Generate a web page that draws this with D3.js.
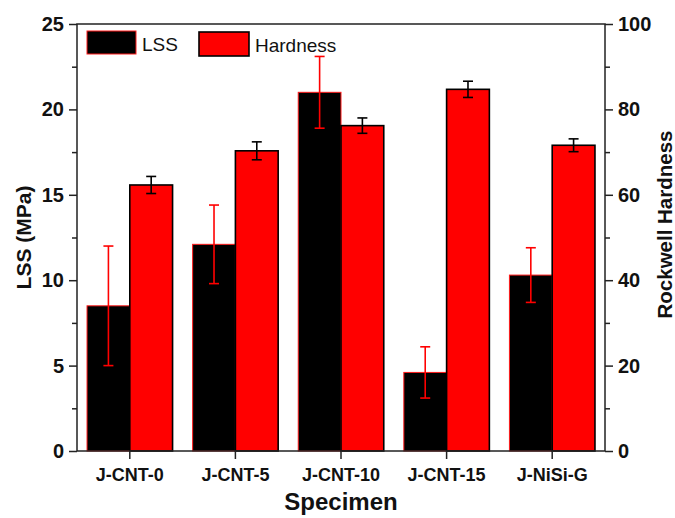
<!DOCTYPE html>
<html><head><meta charset="utf-8">
<script src="https://cdn.jsdelivr.net/npm/d3@7"></script>
<style>
html,body{margin:0;padding:0;background:#fff;}
svg{display:block;}
text{font-family:"Liberation Sans",Arial,sans-serif;}
</style></head>
<body>
<svg id="chart" width="675" height="518"></svg>
<script>
const categories = ["J-CNT-0","J-CNT-5","J-CNT-10","J-CNT-15","J-NiSi-G"];
const lssValues = [8.5, 12.1, 21.0, 4.6, 10.3];
const lssErrors = [3.5, 2.3, 2.1, 1.5, 1.6];
const hardnessValues = [62.3, 70.3, 76.2, 84.7, 71.6];
const hardnessErrors = [2.0, 2.1, 1.8, 1.9, 1.5];
const leftTicks = [0,5,10,15,20,25];
const rightTicks = [0,20,40,60,80,100];

const svg = d3.select("#chart");
const L = 77, R = 605, T = 24, B = 451;
const axisColor = "#222";

const x = d3.scaleBand().domain(categories).range([L,R]).paddingInner(0.19).paddingOuter(0.095);
const sub = d3.scaleBand().domain(["LSS","Hardness"]).range([0,x.bandwidth()]);
const yL = d3.scaleLinear().domain([0,25]).range([B,T]);
const yR = d3.scaleLinear().domain([0,100]).range([B,T]);

// bars
const g = svg.append("g");
categories.forEach((c,i)=>{
  const x0 = x(c);
  g.append("rect").attr("x",x0+sub("LSS")).attr("y",yL(lssValues[i]))
    .attr("width",sub.bandwidth()).attr("height",B-yL(lssValues[i]))
    .attr("fill","#000").attr("stroke","#ff1a1a").attr("stroke-width",1);
  g.append("rect").attr("x",x0+sub("Hardness")).attr("y",yR(hardnessValues[i]))
    .attr("width",sub.bandwidth()).attr("height",B-yR(hardnessValues[i]))
    .attr("fill","#ff0000").attr("stroke","#000").attr("stroke-width",1.6);
});
// error bars
function errBar(cx, yTop, yBot, color){
  const cap = 5;
  g.append("line").attr("x1",cx).attr("x2",cx).attr("y1",yTop).attr("y2",yBot).attr("stroke",color).attr("stroke-width",1.6);
  g.append("line").attr("x1",cx-cap).attr("x2",cx+cap).attr("y1",yTop).attr("y2",yTop).attr("stroke",color).attr("stroke-width",1.6);
  g.append("line").attr("x1",cx-cap).attr("x2",cx+cap).attr("y1",yBot).attr("y2",yBot).attr("stroke",color).attr("stroke-width",1.6);
}
categories.forEach((c,i)=>{
  const cxL = x(c)+sub("LSS")+sub.bandwidth()/2;
  errBar(cxL, yL(lssValues[i]+lssErrors[i]), yL(lssValues[i]-lssErrors[i]), "#ff0000");
  const cxH = x(c)+sub("Hardness")+sub.bandwidth()/2;
  errBar(cxH, yR(hardnessValues[i]+hardnessErrors[i]), yR(hardnessValues[i]-hardnessErrors[i]), "#000");
});

// frame
svg.append("rect").attr("x",L).attr("y",T).attr("width",R-L).attr("height",B-T)
  .attr("fill","none").attr("stroke",axisColor).attr("stroke-width",1.5);

function styleAxis(sel){
  sel.select(".domain").remove();
  sel.selectAll(".tick line").attr("stroke",axisColor).attr("stroke-width",1.5);
  sel.selectAll(".tick text").attr("fill","#111").style("font-weight","bold");
}
// left axis
const minorL = d3.range(2.5,25,5);
svg.append("g").attr("transform",`translate(${L},0)`)
  .call(d3.axisLeft(yL).tickValues(minorL).tickSize(5).tickFormat(""))
  .call(styleAxis);
svg.append("g").attr("transform",`translate(${L},0)`)
  .call(d3.axisLeft(yL).tickValues(leftTicks).tickSize(8).tickPadding(5).tickFormat(d3.format("d")))
  .call(styleAxis).selectAll(".tick text").style("font-size","20px");
// right axis
const minorR = d3.range(10,100,20);
svg.append("g").attr("transform",`translate(${R},0)`)
  .call(d3.axisRight(yR).tickValues(minorR).tickSize(5).tickFormat(""))
  .call(styleAxis);
svg.append("g").attr("transform",`translate(${R},0)`)
  .call(d3.axisRight(yR).tickValues(rightTicks).tickSize(8).tickPadding(5).tickFormat(d3.format("d")))
  .call(styleAxis).selectAll(".tick text").style("font-size","20px");
// bottom axis
svg.append("g").attr("transform",`translate(0,${B})`)
  .call(d3.axisBottom(x).tickSize(8).tickPadding(9))
  .call(styleAxis).selectAll(".tick text").style("font-size","18px");

// axis titles
svg.append("text").attr("transform",`translate(31,${(T+B)/2}) rotate(-90)`)
  .attr("text-anchor","middle").style("font-size","21px").style("font-weight","bold").attr("fill","#111")
  .text("LSS (MPa)");
svg.append("text").attr("transform",`translate(672,${(T+B)/2-13}) rotate(-90)`)
  .attr("text-anchor","middle").style("font-size","20.5px").style("font-weight","bold").attr("fill","#111")
  .text("Rockwell Hardness");
svg.append("text").attr("x",(L+R)/2).attr("y",510)
  .attr("text-anchor","middle").style("font-size","24px").style("font-weight","bold").attr("fill","#111")
  .text("Specimen");

// legend
const legend = svg.append("g");
legend.append("rect").attr("x",87).attr("y",31).attr("width",49).attr("height",23)
  .attr("fill","#000").attr("stroke","#ff1a1a").attr("stroke-width",1);
legend.append("text").attr("x",142).attr("y",51).style("font-size","19px").attr("fill","#111").text("LSS");
legend.append("rect").attr("x",199).attr("y",32).attr("width",50).attr("height",24)
  .attr("fill","#ff0000").attr("stroke","#000").attr("stroke-width",1.6);
legend.append("text").attr("x",255).attr("y",52).style("font-size","19px").attr("fill","#111").text("Hardness");
</script>
</body></html>
